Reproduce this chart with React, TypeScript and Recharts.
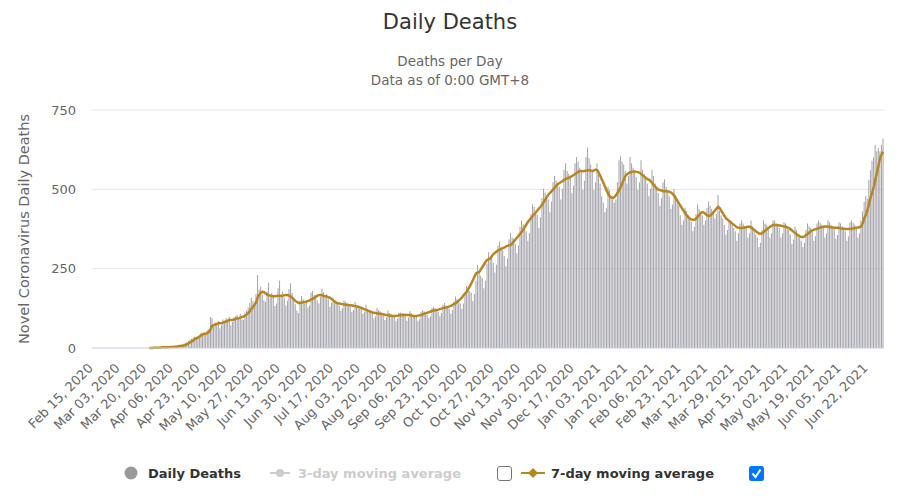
import React from 'react'
import { ComposedChart, Bar, Line, XAxis, YAxis, CartesianGrid } from 'recharts'

// daily deaths, one value per day starting Feb 15, 2020
const dailyDeaths: number[] = [
  0, 0, 0, 0, 0, 0, 0,
  0, 0, 0, 0, 0, 0, 0,
  0, 0, 0, 0, 0, 0, 0,
  0, 0, 0, 0, 0, 0, 0,
  0, 0, 0, 0, 0, 0, 0,
  0, 0, 0, 1, 0, 2, 1,
  1, 2, 3, 2, 1, 3, 2,
  3, 4, 3, 5, 4, 6, 8,
  9, 11, 13, 16, 18, 22, 26,
  29, 33, 36, 35, 30, 42, 48,
  46, 50, 44, 56, 60, 98, 94,
  68, 80, 74, 86, 62, 72, 90,
  86, 94, 90, 98, 72, 82, 96,
  100, 104, 96, 108, 90, 88, 112,
  118, 128, 142, 158, 148, 138, 170,
  230, 184, 194, 168, 150, 146, 178,
  206, 160, 174, 164, 132, 140, 188,
  212, 168, 178, 158, 134, 150, 186,
  204, 174, 158, 138, 118, 110, 148,
  164, 154, 140, 150, 128, 134, 174,
  180, 168, 164, 150, 140, 162, 186,
  176, 160, 170, 154, 130, 144, 160,
  150, 144, 140, 134, 118, 126, 150,
  146, 140, 134, 130, 114, 120, 146,
  136, 130, 124, 126, 108, 114, 136,
  124, 120, 114, 110, 94, 100, 126,
  120, 116, 110, 104, 88, 96, 118,
  110, 108, 104, 100, 84, 92, 112,
  112, 110, 108, 100, 86, 96, 116,
  110, 104, 100, 98, 84, 90, 114,
  120, 116, 110, 104, 94, 100, 126,
  130, 126, 120, 114, 100, 110, 136,
  142, 134, 130, 124, 108, 120, 146,
  162, 154, 150, 140, 124, 140, 172,
  196, 190, 180, 174, 148, 170, 212,
  262, 238, 228, 220, 188, 212, 266,
  302, 288, 284, 268, 238, 262, 322,
  336, 318, 308, 290, 258, 282, 342,
  362, 348, 344, 328, 298, 322, 382,
  402, 390, 384, 368, 338, 362, 422,
  452, 444, 428, 420, 378, 412, 472,
  502, 490, 478, 468, 428, 462, 522,
  542, 528, 518, 508, 468, 502, 562,
  582, 558, 548, 538, 488, 512, 582,
  602, 588, 568, 558, 498, 528, 602,
  632, 598, 578, 560, 498, 522, 582,
  562, 518, 478, 458, 428, 440, 508,
  498, 478, 468, 458, 468, 522, 592,
  604, 588, 578, 558, 518, 542, 602,
  582, 568, 558, 538, 498, 522, 592,
  562, 548, 538, 518, 478, 502, 562,
  542, 518, 508, 488, 448, 472, 522,
  532, 508, 498, 478, 438, 452, 502,
  482, 458, 448, 418, 388, 402, 442,
  432, 418, 408, 398, 368, 382, 422,
  452, 438, 428, 418, 388, 402, 442,
  462, 448, 438, 428, 408, 422, 482,
  432, 418, 408, 388, 358, 372, 402,
  402, 388, 378, 368, 338, 362, 392,
  402, 392, 384, 378, 348, 362, 402,
  382, 368, 358, 348, 318, 332, 372,
  402, 392, 388, 378, 348, 362, 402,
  402, 392, 388, 378, 348, 362, 396,
  392, 378, 372, 358, 328, 342, 382,
  372, 358, 348, 338, 318, 332, 372,
  392, 384, 378, 368, 338, 352, 392,
  402, 394, 388, 378, 348, 362, 402,
  396, 388, 384, 374, 344, 356, 396,
  392, 384, 378, 368, 338, 352, 396,
  402, 394, 388, 378, 348, 362, 402,
  430, 460, 480, 470, 530, 560, 590,
  600, 640, 620, 630, 620, 640, 660,
]

// 7-day moving average
const movingAvg7: (number | null)[] = [
  null, null, null, null, null, null, null,
  null, null, null, null, null, null, null,
  null, null, null, null, null, null, null,
  null, null, null, null, null, null, null,
  null, null, null, null, null, null, null,
  null, 0, 0, 0, 1, 1, 1,
  1, 1, 2, 2, 2, 2, 2,
  3, 3, 3, 4, 4, 5, 6,
  6, 7, 8, 10, 12, 15, 18,
  21, 24, 28, 31, 33, 36, 40,
  43, 45, 45, 48, 50, 60, 70,
  72, 74, 76, 78, 78, 79, 80,
  82, 84, 86, 88, 88, 88, 90,
  92, 93, 94, 96, 98, 99, 102,
  106, 110, 116, 124, 130, 136, 146,
  160, 168, 174, 177, 176, 172, 168,
  166, 165, 164, 163, 163, 164, 165,
  165, 164, 165, 166, 167, 167, 165,
  162, 158, 153, 148, 145, 142, 142,
  143, 144, 145, 146, 148, 150, 153,
  155, 158, 162, 165, 167, 167, 166,
  164, 163, 162, 160, 158, 154, 150,
  146, 143, 141, 140, 139, 138, 137,
  136, 136, 135, 135, 134, 133, 132,
  131, 130, 128, 126, 124, 122, 120,
  118, 116, 114, 112, 111, 110, 109,
  108, 108, 107, 106, 105, 104, 103,
  102, 102, 101, 101, 101, 102, 103,
  103, 104, 104, 105, 104, 104, 103,
  102, 101, 101, 101, 102, 103, 104,
  106, 108, 110, 111, 113, 115, 117,
  118, 119, 120, 121, 123, 124, 126,
  127, 128, 129, 131, 133, 136, 139,
  142, 146, 150, 154, 160, 166, 172,
  178, 186, 195, 205, 215, 226, 236,
  238, 240, 248, 256, 264, 272, 278,
  280, 282, 290, 296, 300, 304, 308,
  310, 312, 315, 317, 320, 322, 324,
  325, 330, 336, 342, 348, 354, 360,
  366, 374, 382, 390, 398, 404, 410,
  416, 422, 428, 434, 440, 445, 452,
  460, 468, 476, 484, 489, 494, 500,
  506, 512, 517, 520, 523, 526, 530,
  533, 535, 537, 539, 542, 545, 548,
  552, 555, 558, 558, 557, 558, 559,
  560, 560, 559, 558, 560, 562, 560,
  552, 542, 530, 520, 508, 496, 486,
  478, 474, 473, 476, 482, 490, 498,
  508, 520, 532, 542, 548, 551, 553,
  555, 556, 556, 555, 554, 552, 548,
  544, 540, 536, 532, 530, 526, 520,
  514, 508, 502, 499, 498, 496, 494,
  494, 494, 493, 492, 490, 486, 480,
  472, 464, 456, 448, 440, 432, 424,
  418, 412, 408, 405, 404, 404, 408,
  414, 420, 426, 428, 426, 422, 418,
  416, 418, 422, 428, 434, 440, 445,
  440, 432, 424, 416, 408, 404, 400,
  396, 392, 388, 384, 380, 379, 378,
  378, 379, 380, 381, 382, 382, 380,
  376, 372, 368, 364, 361, 360, 362,
  366, 370, 374, 378, 382, 385, 388,
  388, 388, 387, 386, 385, 384, 383,
  382, 380, 378, 374, 370, 366, 362,
  358, 355, 352, 350, 350, 352, 356,
  360, 364, 368, 371, 373, 374, 376,
  378, 380, 381, 382, 383, 383, 382,
  381, 380, 380, 379, 379, 379, 378,
  377, 376, 376, 375, 375, 375, 375,
  376, 377, 378, 379, 380, 381, 383,
  394, 410, 420, 435, 455, 475, 490,
  508, 530, 552, 575, 600, 610, 618,
]

const yTicks = [0, 250, 500, 750]
const MONTHS = ['Jan', 'Feb', 'Mar', 'Apr', 'May', 'Jun', 'Jul', 'Aug', 'Sep', 'Oct', 'Nov', 'Dec']
const START = Date.UTC(2020, 1, 15)

const dates = dailyDeaths.map((_, i) => {
  const dt = new Date(START + i * 86400000)
  return `${MONTHS[dt.getUTCMonth()]} ${String(dt.getUTCDate()).padStart(2, '0')}, ${dt.getUTCFullYear()}`
})

const data = dates.map((date, i) => ({ date, deaths: dailyDeaths[i], ma7: movingAvg7[i] }))

const FONT = '"DejaVu Sans", sans-serif'
const GOLD = '#b8861e'

const DateTick = (props: any) => {
  const { x, y, payload } = props
  return (
    <g transform={`translate(${x + 1},${y + 21})`}>
      <text x={0} y={0} textAnchor="end" transform="rotate(-45)" fontSize={13} fill="#666" fontFamily={FONT}>
        {payload.value}
      </text>
    </g>
  )
}

const Legend = () => (
  <svg width={900} height={497} style={{ position: 'absolute', left: 0, top: 0, pointerEvents: 'none' }}>
    <text x={450} y={29} textAnchor="middle" fontSize={21} fill="#333" fontFamily={FONT}>Daily Deaths</text>
    <text x={450} y={66} textAnchor="middle" fontSize={13.5} fill="#666" fontFamily={FONT}>Deaths per Day</text>
    <text x={450} y={85} textAnchor="middle" fontSize={13.5} fill="#666" fontFamily={FONT}>Data as of 0:00 GMT+8</text>
    <text transform="translate(29,229) rotate(-90)" textAnchor="middle" fontSize={14.5} fill="#666" fontFamily={FONT}>
      Novel Coronavirus Daily Deaths
    </text>

    <circle cx={131} cy={473} r={6.5} fill="#999" />
    <text x={148} y={478} fontSize={13} fontWeight="bold" fill="#333" fontFamily={FONT}>Daily Deaths</text>

    <line x1={270} y1={473} x2={290} y2={473} stroke="#ccc" strokeWidth={2} />
    <circle cx={280} cy={473} r={4} fill="#ccc" />
    <text x={298} y={478} fontSize={13} fontWeight="bold" fill="#ccc" fontFamily={FONT}>3-day moving average</text>
    <rect x={497.5} y={466.5} width={14} height={14} rx={2.5} fill="#fff" stroke="#767676" strokeWidth={1} />

    <line x1={521} y1={473} x2={545} y2={473} stroke={GOLD} strokeWidth={2} />
    <path d="M533,468 L538,473 L533,478 L528,473 Z" fill={GOLD} />
    <text x={551} y={478} fontSize={13} fontWeight="bold" fill="#333" fontFamily={FONT}>7-day moving average</text>
    <rect x={749} y={466} width={15} height={15} rx={2.5} fill="#0075ff" />
    <path d="M752.5,473.5 L755.5,477 L760.5,469.5" fill="none" stroke="#fff" strokeWidth={2} />
  </svg>
)

export default function App() {
  return (
    <div style={{ position: 'absolute', left: 0, top: 0, width: 900, height: 497, background: '#fff' }}>
      <ComposedChart
        width={900}
        height={497}
        data={data}
        margin={{ top: 110, right: 16, left: 32, bottom: 69 }}
        barCategoryGap="4%"
      >
        <CartesianGrid vertical={false} stroke="#e6e6e6" />
        <XAxis
          dataKey="date"
          interval={16}
          height={80}
          axisLine={{ stroke: '#ccd6eb' }}
          tickLine={false}
          tickSize={0}
          tickMargin={0}
          tick={<DateTick />}
        />
        <YAxis
          domain={[0, 750]}
          ticks={yTicks}
          width={60}
          axisLine={false}
          tickLine={false}
          tickMargin={10}
          tick={{ fontSize: 13, fill: '#666', fontFamily: FONT }}
        />
        <Bar dataKey="deaths" fill="#a2a2aa" isAnimationActive={false} />
        <Line
          dataKey="ma7"
          type="linear"
          stroke={GOLD}
          strokeWidth={2.5}
          dot={false}
          isAnimationActive={false}
        />
      </ComposedChart>
      <Legend />
    </div>
  )
}
